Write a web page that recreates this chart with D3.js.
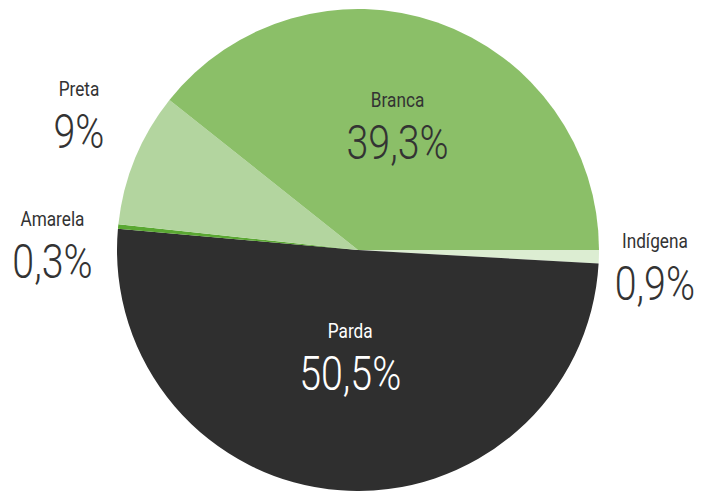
<!DOCTYPE html>
<html>
<head>
<meta charset="utf-8">
<script src="https://cdn.jsdelivr.net/npm/d3@7"></script>
<style>
  body { margin: 0; background: #fff; }
  text { font-family: Roboto, "DejaVu Sans Condensed", sans-serif; }
</style>
</head>
<body>
<svg id="pie" width="711" height="491"></svg>
<script>
// data, clockwise from 3 o'clock
var categories = ["Indígena", "Parda", "Amarela", "Preta", "Branca"];
var values = [0.9, 50.5, 0.3, 9, 39.3];
var colors = ["#dcedd2", "#2f2f2f", "#5aa832", "#b3d59f", "#8bbf68"];
var textColors = ["#333", "#fff", "#333", "#333", "#333"];

// label placement: radius for the label anchor and a small nudge
var labelRadius = [297, 108, 307, 307, 129];
var labelNudge = [[0, 10], [0, 0], [0, 26], [5, -17], [-3, -1]];

var svg = d3.select("#pie"),
    cx = 358, cy = 250, radius = 241;

var g = svg.append("g").attr("transform", "translate(" + cx + "," + cy + ")");

var pie = d3.pie()
    .sort(null)
    .value(function(d) { return d; })
    .startAngle(Math.PI / 2)
    .endAngle(Math.PI / 2 + 2 * Math.PI);

var arc = d3.arc().innerRadius(0).outerRadius(radius);

var arcs = pie(values);

g.selectAll(".slice")
    .data(arcs)
    .enter().append("path")
    .attr("class", "slice")
    .attr("d", arc)
    .attr("fill", function(d, i) { return colors[i]; });

function fmt(v) { return String(v).replace(".", ",") + "%"; }

var label = g.selectAll(".label")
    .data(arcs)
    .enter().append("g")
    .attr("class", "label")
    .attr("transform", function(d, i) {
        var a = (d.startAngle + d.endAngle) / 2,
            r = labelRadius[i];
        var x = r * Math.sin(a) + labelNudge[i][0],
            y = -r * Math.cos(a) + labelNudge[i][1];
        return "translate(" + x + "," + y + ") scale(0.82,1)";
    });

label.append("text")
    .attr("text-anchor", "middle")
    .attr("y", -20)
    .style("font-size", "21px")
    .style("fill", function(d, i) { return textColors[i]; })
    .text(function(d, i) { return categories[i]; });

label.append("text")
    .attr("text-anchor", "middle")
    .attr("y", 32)
    .style("font-size", "48px")
    .style("font-weight", 300)
    .style("fill", function(d, i) { return textColors[i]; })
    .text(function(d) { return fmt(d.data); });
</script>
</body>
</html>
